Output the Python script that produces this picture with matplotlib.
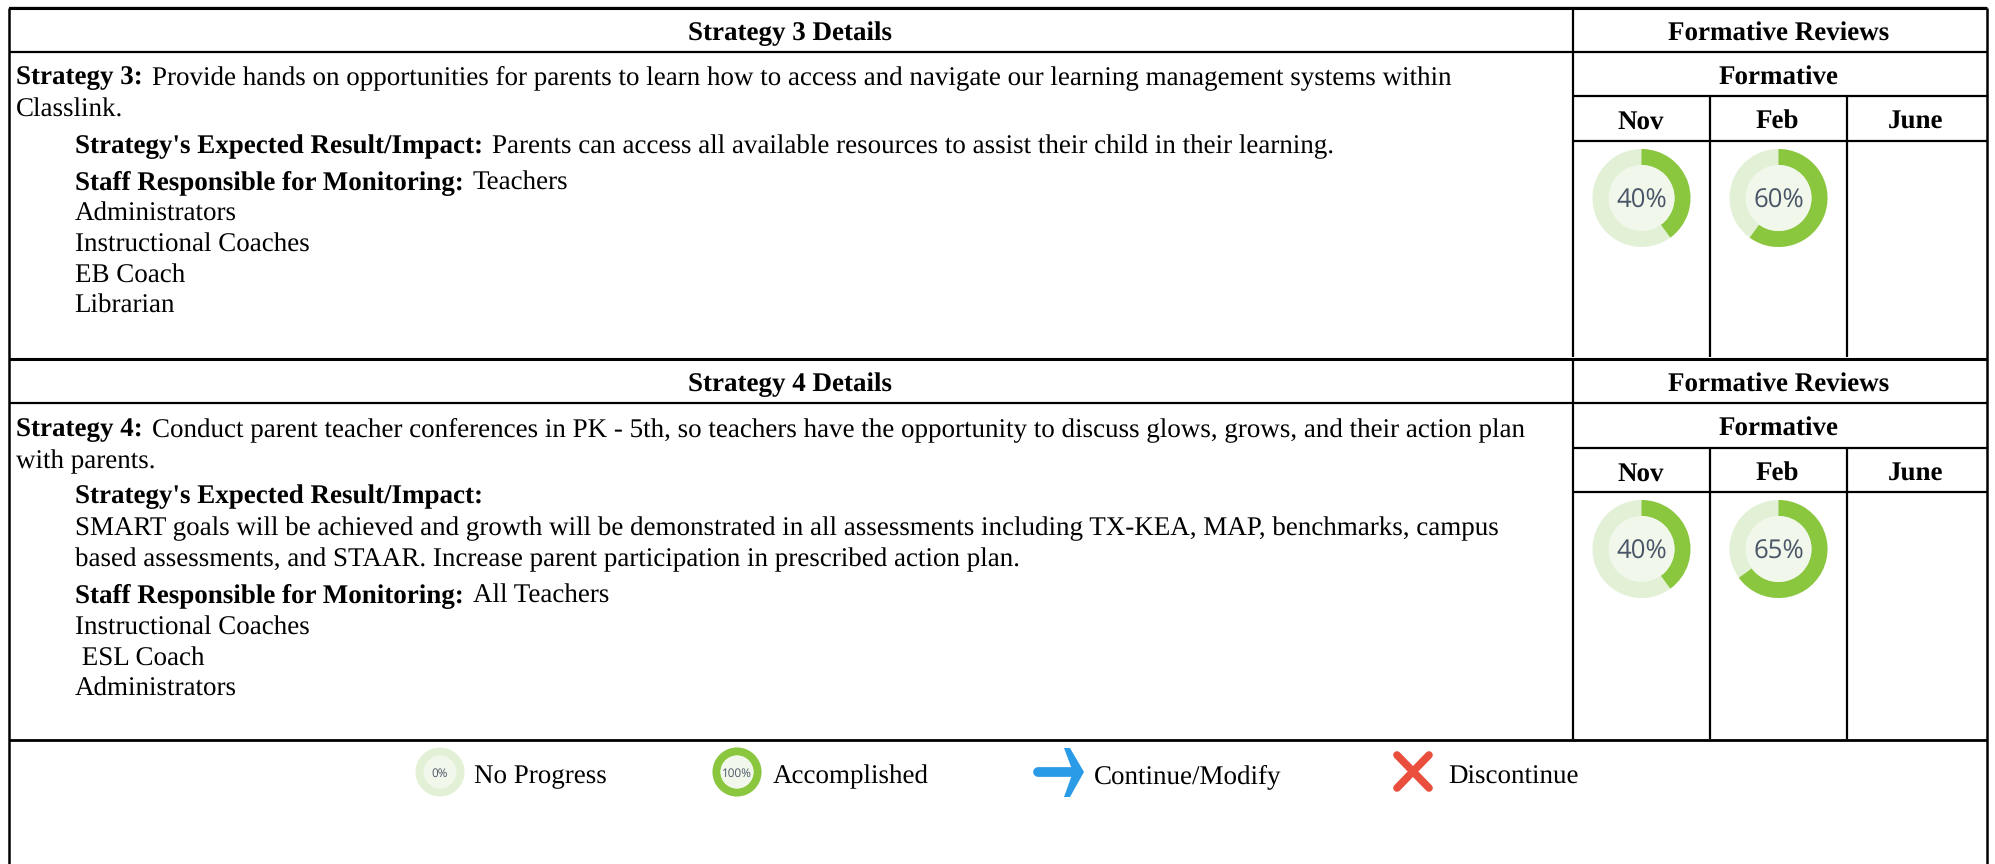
import matplotlib
matplotlib.use("Agg")
import matplotlib.pyplot as plt
from matplotlib.patches import Wedge, Circle

plt.rcParams['font.family'] = ['Liberation Serif', 'DejaVu Serif']
plt.rcParams['text.hinting'] = 'no_hinting'

# values
months = ["Nov", "Feb", "June"]
strategy3_reviews = [40, 60]
strategy4_reviews = [40, 65]
legend_labels = ["No Progress", "Accomplished", "Continue/Modify", "Discontinue"]
legend_values = [0, 100]

strategy3_lines = [
    ("Strategy 3:", "Provide hands on opportunities for parents to learn how to access and navigate our learning management systems within"),
    ("", "Classlink."),
    ("Strategy's Expected Result/Impact:", "Parents can access all available resources to assist their child in their learning."),
    ("Staff Responsible for Monitoring:", "Teachers"),
    ("", "Administrators"),
    ("", "Instructional Coaches"),
    ("", "EB Coach"),
    ("", "Librarian"),
]
strategy3_x = [16, 16, 75, 75, 75, 75, 75, 74]
strategy3_y = [84, 116, 153, 189, 220, 251, 282, 312]

strategy4_lines = [
    ("Strategy 4:", "Conduct parent teacher conferences in PK - 5th, so teachers have the opportunity to discuss glows, grows, and their action plan"),
    ("", "with parents."),
    ("Strategy's Expected Result/Impact:", ""),
    ("", "SMART goals will be achieved and growth will be demonstrated in all assessments including TX-KEA, MAP, benchmarks, campus"),
    ("", "based assessments, and STAAR. Increase parent participation in prescribed action plan."),
    ("Staff Responsible for Monitoring:", "All Teachers"),
    ("", "Instructional Coaches"),
    ("", " ESL Coach"),
    ("", "Administrators"),
]
strategy4_x = [16, 16, 75, 75, 75, 75, 75, 75, 75]
strategy4_y = [436, 468, 503, 535, 566, 602, 634, 665, 695]

W, H = 1995, 864
LEFT, RIGHT = 9, 1987
COL1, COL2, COL3 = 1573, 1710, 1847
FS = 19.44
LW = 1.6
GREEN = "#8AC73F"
PALE = "#E2F0D6"
INNER = "#F1F8EB"

fig = plt.figure(figsize=(W / 100, H / 100), dpi=100)
ax = fig.add_axes([0, 0, 1, 1])
ax.set_xlim(0, W)
ax.set_ylim(H, 0)
ax.axis("off")


def hline(y, x0=LEFT, x1=RIGHT, lw=LW):
    ax.plot([x0, x1], [y, y], color="black", lw=lw, solid_capstyle="butt")


def vline(x, y0, y1, lw=LW):
    ax.plot([x, x], [y0, y1], color="black", lw=lw, solid_capstyle="butt")


def mixed_line(x, y, bold, normal):
    # bold label followed by normal text on one baseline
    renderer = fig.canvas.get_renderer()
    if bold:
        t = ax.text(x, y, bold, fontsize=FS, fontweight="bold", va="baseline")
        x = t.get_window_extent(renderer).x1 + 9
    if normal:
        # no descender in some of these strings, agg rounds them a pixel high
        ax.text(x, y + 0.6, normal, fontsize=FS, va="baseline")


def donut(cx, cy, value, r=49, width=16, fs=18.5):
    ax.add_patch(Circle((cx, cy), r, color=PALE, lw=0))
    if value > 0:
        ax.add_patch(Wedge((cx, cy), r, -90, -90 + 3.6 * value, width=width, color=GREEN, lw=0))
    ax.add_patch(Circle((cx, cy), r - width, color=INNER, lw=0))
    ax.text(cx, cy, str(value) + "%", fontsize=fs, family="Open Sans", color="#4A5568",
            ha="center", va="center_baseline")


def block(top, mid, sub, head, bottom, title, lines, xs, ys, reviews):
    hline(top, lw=2.2)
    hline(mid)
    hline(sub, COL1, RIGHT)
    hline(head, COL1, RIGHT)
    vline(COL1, top, bottom)
    vline(COL2, sub, bottom)
    vline(COL3, sub, bottom)
    ax.text((LEFT + COL1) / 2 - 1, top + 32, title, fontsize=FS, fontweight="bold", ha="center", va="baseline")
    ax.text((COL1 + RIGHT) / 2 - 1, top + 33, "Formative Reviews", fontsize=FS, fontweight="bold", ha="center", va="baseline")
    ax.text((COL1 + RIGHT) / 2 - 1, mid + 33, "Formative", fontsize=FS, fontweight="bold", ha="center", va="baseline")
    edges = [COL1, COL2, COL3, RIGHT]
    for i, m in enumerate(months):
        ax.text((edges[i] + edges[i + 1]) / 2 - 1, sub + 33, m, fontsize=FS, fontweight="bold", ha="center", va="baseline")
    for (b, n), x, y in zip(lines, xs, ys):
        mixed_line(x, y, b, n)
    for i, v in enumerate(reviews):
        donut(edges[i] + 68.5, head + 57, v)


block(8, 52, 96, 141, 357, "Strategy 3 Details", strategy3_lines, strategy3_x, strategy3_y, strategy3_reviews)
block(359, 403, 448, 492, 739, "Strategy 4 Details", strategy4_lines, strategy4_x, strategy4_y, strategy4_reviews)

# outer frame and legend row
hline(8)
hline(740, lw=2.0)
vline(LEFT, 8, H, lw=1.8)
vline(RIGHT, 8, H, lw=1.8)

legend_y = 772
donut(440, legend_y, legend_values[0], r=24.5, width=8, fs=8.5)
donut(737, legend_y, legend_values[1], r=24.5, width=8, fs=8.5)
ax.plot([1038, 1072], [legend_y, legend_y], color="#2A9BE6", lw=7, solid_capstyle="round")
ax.fill([1064, 1070, 1084, 1070, 1064, 1073], [748, 748, legend_y, 797, 797, legend_y], color="#2A9BE6", lw=0)
ax.plot([1397, 1429], [755, 788], color="#E94F3C", lw=5.5, solid_capstyle="round")
ax.plot([1429, 1397], [755, 788], color="#E94F3C", lw=5.5, solid_capstyle="round")
for x, label in zip([474, 773, 1094, 1448], legend_labels):
    ax.text(x, 783.6, label, fontsize=FS, va="baseline")

fig.savefig("out.png", dpi=100)
